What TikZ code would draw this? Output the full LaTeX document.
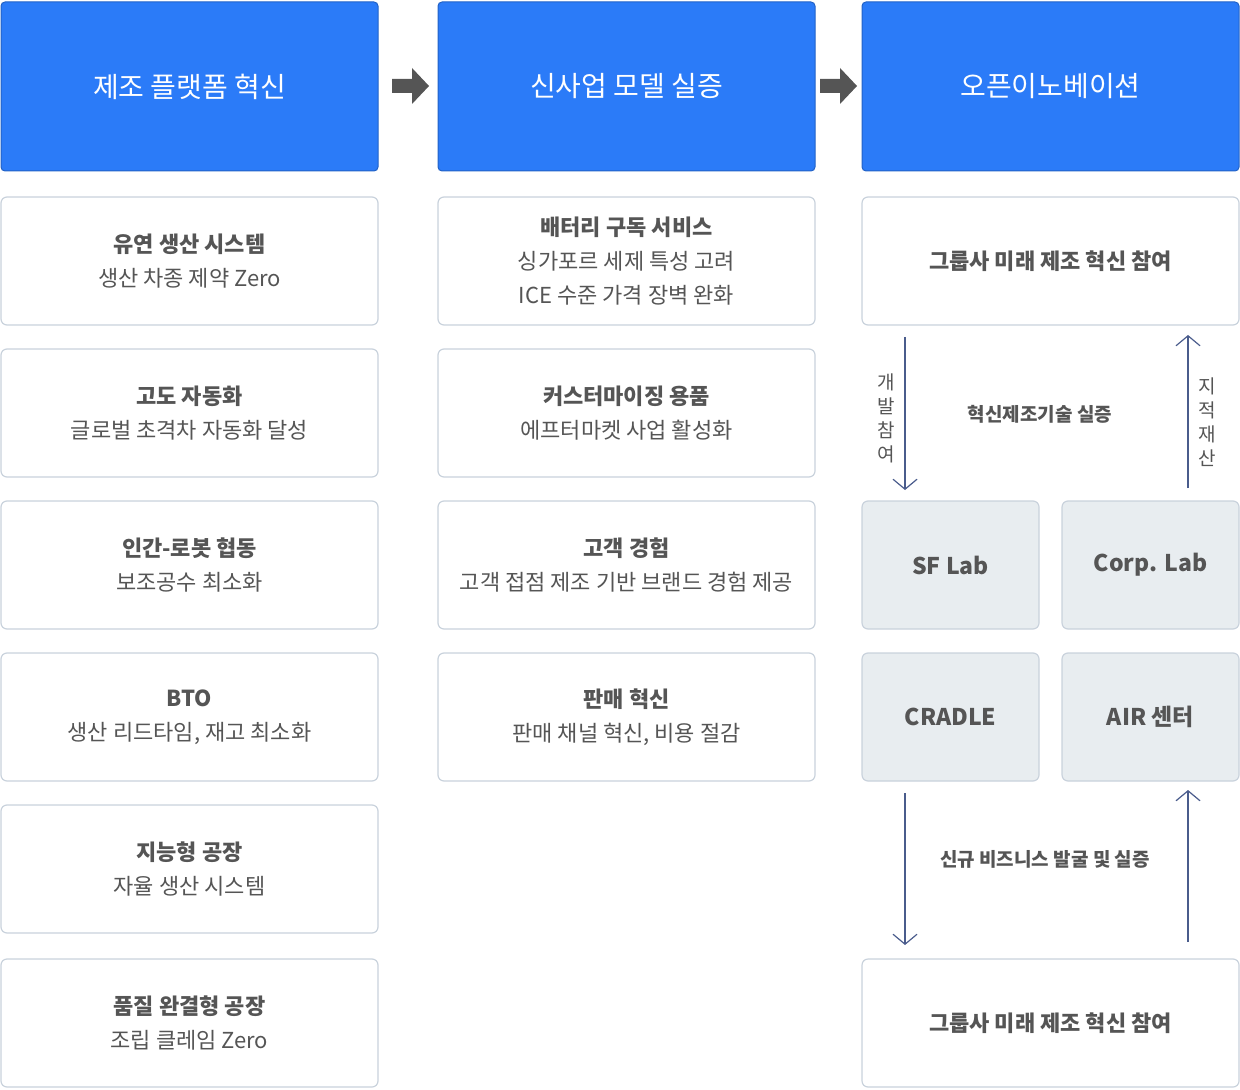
\documentclass[tikz,border=0pt]{standalone}
\usepackage{fontspec}
\setmainfont{Noto Sans CJK KR}
\newfontfamily\krb{Noto Sans CJK KR}[BoldFont={* Bold}]
\usetikzlibrary{arrows.meta}
\definecolor{hblue}{HTML}{2B7BF8}
\definecolor{bord}{HTML}{C9D2DC}
\definecolor{txt}{HTML}{555555}
\definecolor{lab}{HTML}{E8EDF0}
\definecolor{arr}{HTML}{4A5C8C}
\tikzset{
 hdr/.style={fill=hblue,draw=hblue!80!black,line width=0.5pt,rounded corners=2pt,font=\fontsize{14}{17}\selectfont,text=white},
 card/.style={draw=bord,fill=white,line width=0.6pt,rounded corners=3pt,align=center,text=txt,font=\fontsize{11}{17}\selectfont},
 labbox/.style={draw=bord,fill=lab,line width=0.6pt,rounded corners=3pt,text=txt,font=\fontsize{11.5}{14}\selectfont\bfseries},
 flow/.style={draw=arr,line width=0.6pt,-{Straight Barb[length=5pt,width=12pt,line width=0.6pt]}},
 vlab/.style={text=txt,align=center,font=\fontsize{9.5}{12}\selectfont},
 mlab/.style={text=txt,font=\fontsize{9.5}{12}\selectfont\bfseries},
 bigarr/.style={fill=txt,draw=none}
}
\newcommand{\cardbox}[6]{\path[card] (#2,#3) rectangle (#4,#5) node[pos=.5,card,draw=none,fill=none] (#1) {#6};}
\begin{document}
\begin{tikzpicture}[x=0.5pt,y=-0.5pt]
\useasboundingbox (0,0) rectangle (1240,1090);
% headers
\path[hdr] (1,2) rectangle (378,171) node[pos=.5] (h1) {제조 플랫폼 혁신};
\path[hdr] (438,2) rectangle (815,171) node[pos=.5] (h2) {신사업 모델 실증};
\path[hdr] (862,2) rectangle (1239,171) node[pos=.5] (h3) {오픈이노베이션};
\fill[bigarr] (392,79) -- (412,79) -- (412,68) -- (429,86) -- (412,104) -- (412,93) -- (392,93) -- cycle;
\fill[bigarr] (820,79) -- (840,79) -- (840,68) -- (857,86) -- (840,104) -- (840,93) -- (820,93) -- cycle;
% column 1
\cardbox{a1}{1}{197}{378}{325}{\textbf{유연 생산 시스템}\\생산 차종 제약 Zero}
\cardbox{a2}{1}{349}{378}{477}{\textbf{고도 자동화}\\글로벌 초격차 자동화 달성}
\cardbox{a3}{1}{501}{378}{629}{\textbf{인간-로봇 협동}\\보조공수 최소화}
\cardbox{a4}{1}{653}{378}{781}{\textbf{BTO}\\생산 리드타임, 재고 최소화}
\cardbox{a5}{1}{805}{378}{933}{\textbf{지능형 공장}\\자율 생산 시스템}
\cardbox{a6}{1}{959}{378}{1087}{\textbf{품질 완결형 공장}\\조립 클레임 Zero}
% column 2
\cardbox{b1}{438}{197}{815}{325}{\textbf{배터리 구독 서비스}\\싱가포르 세제 특성 고려\\ICE 수준 가격 장벽 완화}
\cardbox{b2}{438}{349}{815}{477}{\textbf{커스터마이징 용품}\\에프터마켓 사업 활성화}
\cardbox{b3}{438}{501}{815}{629}{\textbf{고객 경험}\\고객 접점 제조 기반 브랜드 경험 제공}
\cardbox{b4}{438}{653}{815}{781}{\textbf{판매 혁신}\\판매 채널 혁신, 비용 절감}
% column 3
\cardbox{c1}{862}{197}{1239}{325}{\textbf{그룹사 미래 제조 혁신 참여}}
\cardbox{c2}{862}{959}{1239}{1087}{\textbf{그룹사 미래 제조 혁신 참여}}
\path[labbox] (862,501) rectangle (1039,629) node[pos=.5] (sf) {SF Lab};
\path[labbox] (1062,501) rectangle (1239,629) node[pos=.5] (corp) {Corp. Lab};
\path[labbox] (862,653) rectangle (1039,781) node[pos=.5] (cr) {CRADLE};
\path[labbox] (1062,653) rectangle (1239,781) node[pos=.5] (air) {AIR 센터};
\coordinate (p1) at (905,337); \coordinate (p2) at (905,490);
\coordinate (q1) at (1188,488); \coordinate (q2) at (1188,335);
\coordinate (p3) at (905,793); \coordinate (p4) at (905,945);
\coordinate (q3) at (1188,942); \coordinate (q4) at (1188,790);
\draw[flow] (p1) -- (p2);
\draw[flow] (q1) -- (q2);
\draw[flow] (p3) -- (p4);
\draw[flow] (q3) -- (q4);
\node[vlab] (v1) at (886,418) {개\\발\\참\\여};
\node[vlab] (v2) at (1207,422) {지\\적\\재\\산};
\node[mlab] (m1) at (1040,414) {혁신제조기술 실증};
\node[mlab] (m2) at (1045,859) {신규 비즈니스 발굴 및 실증};
\end{tikzpicture}
\end{document}
